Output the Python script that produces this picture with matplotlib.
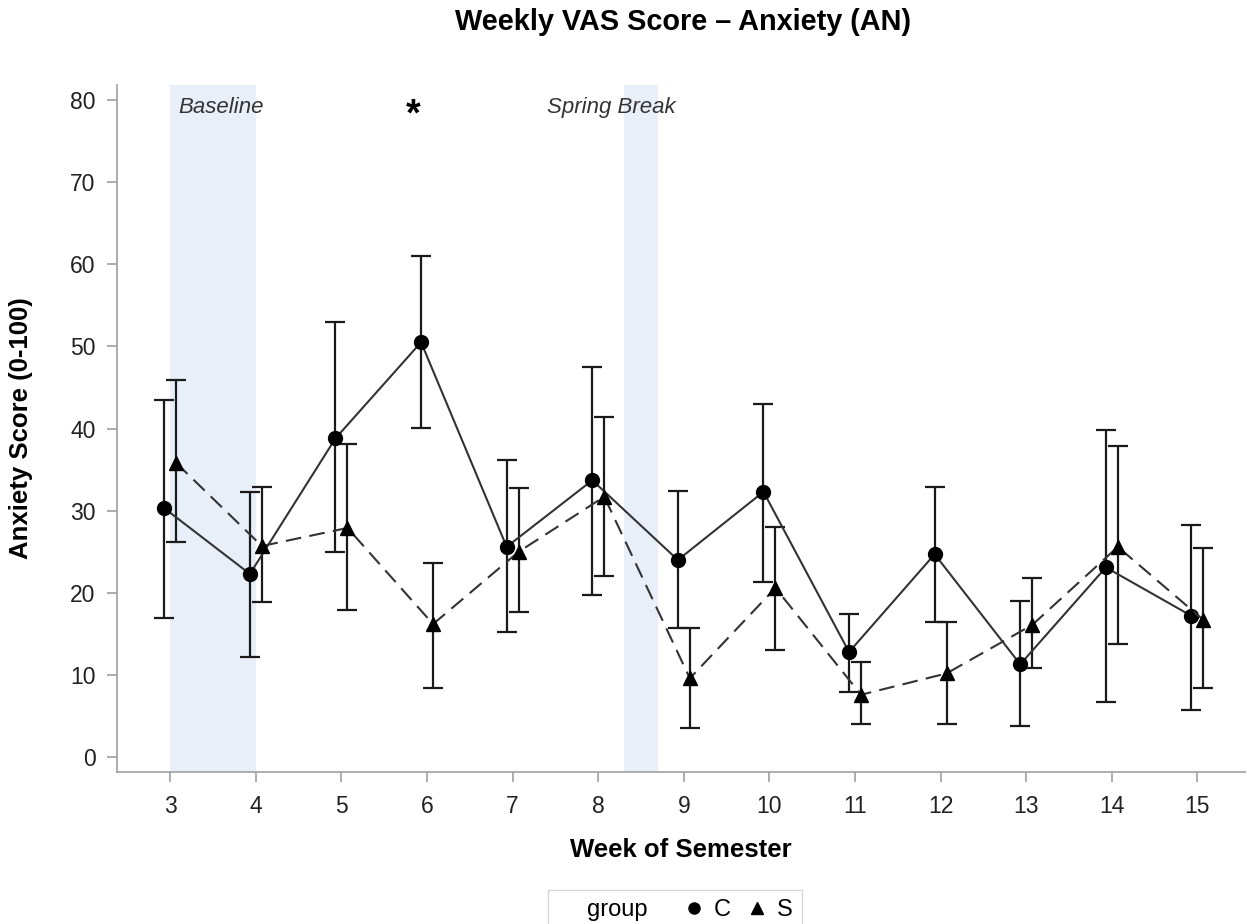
import numpy as np
import matplotlib.pyplot as plt
from matplotlib.lines import Line2D

# data
weeks = [3, 4, 5, 6, 7, 8, 9, 10, 11, 12, 13, 14, 15]

c_mean = [30.3, 22.3, 38.8, 50.5, 25.6, 33.7, 24.0, 32.3, 12.8, 24.7, 11.3, 23.1, 17.2]
c_upper = [43.5, 32.3, 53.0, 61.0, 36.2, 47.5, 32.4, 43.0, 17.4, 32.9, 19.0, 39.8, 28.3]
c_lower = [16.9, 12.2, 25.0, 40.1, 15.2, 19.8, 15.7, 21.3, 7.9, 16.4, 3.8, 6.7, 5.7]

s_mean = [35.8, 25.7, 27.9, 16.2, 25.0, 31.7, 9.6, 20.6, 7.6, 10.2, 16.1, 25.6, 16.7]
s_upper = [45.9, 32.9, 38.1, 23.6, 32.8, 41.4, 15.7, 28.0, 11.6, 16.4, 21.8, 37.9, 25.5]
s_lower = [26.2, 18.9, 17.9, 8.4, 17.7, 22.0, 3.5, 13.0, 4.0, 4.0, 10.8, 13.8, 8.4]

# shaded periods: label, start, end, label x position
periods = [("Baseline", 3.0, 4.0, 3.09), ("Spring Break", 8.3, 8.7, 7.40)]

plt.rcParams["font.family"] = ["Liberation Sans", "DejaVu Sans"]

GRAY = "#A0A0A0"
SHADE = "#E8EFF8"
DODGE = 0.07


def plot_group(ax, x, mean, lower, upper, marker, linestyle, dashes=None):
    mean = np.asarray(mean)
    yerr = [mean - np.asarray(lower), np.asarray(upper) - mean]
    ax.errorbar(x, mean, yerr=yerr, fmt="none", ecolor="#1a1a1a",
                elinewidth=1.6, capsize=7, capthick=1.6, zorder=3)
    line, = ax.plot(x, mean, color="#333333", linewidth=1.5, linestyle=linestyle,
                    marker=marker, markersize=10, markerfacecolor="black",
                    markeredgecolor="black", zorder=4)
    if dashes is not None:
        line.set_dashes(dashes)


def main():
    fig = plt.figure(figsize=(12.47, 9.24), dpi=100)
    ax = fig.add_axes([0.094, 0.1645, 0.904, 0.7435])

    for label, x0, x1, xt in periods:
        ax.axvspan(x0, x1, color=SHADE, zorder=0, linewidth=0)
        ax.text(xt, 80.4, label, fontsize=16, style="italic",
                color="#333333", ha="left", va="top")

    ax.text(5.84, 80.3, "*", fontsize=27, fontweight="bold", ha="center", va="top")

    w = np.asarray(weeks, dtype=float)
    plot_group(ax, w - DODGE, c_mean, c_lower, c_upper, "o", "-")
    plot_group(ax, w + DODGE, s_mean, s_lower, s_upper, "^", "--", dashes=(7.5, 4))

    ax.set_xlim(2.38, 15.55)
    ax.set_ylim(-1.8, 81.8)
    ax.set_xticks(weeks)
    ax.set_yticks(range(0, 81, 10))
    ax.tick_params(axis="both", colors=GRAY, labelcolor="#222222",
                   labelsize=16.5, length=7.2, width=1.2, direction="out")
    ax.tick_params(axis="x", pad=9)
    ax.tick_params(axis="y", pad=8.5)
    for side in ("top", "right"):
        ax.spines[side].set_visible(False)
    for side in ("left", "bottom"):
        ax.spines[side].set_color(GRAY)
        ax.spines[side].set_linewidth(1.2)

    ax.set_xlabel("Week of Semester", fontsize=18.5, fontweight="bold")
    ax.set_ylabel("Anxiety Score (0-100)", fontsize=18.5, fontweight="bold")
    ax.xaxis.set_label_coords(0.5, -0.096)
    ax.yaxis.set_label_coords(-0.0745, 0.5)
    fig.suptitle("Weekly VAS Score \u2013 Anxiety (AN)", fontsize=20.8,
                 fontweight="bold", x=0.548, y=0.976, va="center")

    handles = [
        Line2D([], [], linestyle="none", marker=None),
        Line2D([], [], linestyle="none", marker="o", color="black", markersize=8),
        Line2D([], [], linestyle="none", marker="^", color="black", markersize=8),
    ]
    fig.legend(handles, ["group   ", "C", "S"], ncol=3, loc="upper right",
               bbox_to_anchor=(802 / 1247, 1 - 890 / 924), borderaxespad=0,
               fontsize=17, frameon=True, fancybox=False, edgecolor="#cccccc",
               handlelength=0.8, handletextpad=0.45, columnspacing=0.7,
               borderpad=0.4)

    fig.savefig("out.png", dpi=100)


if __name__ == "__main__":
    main()
